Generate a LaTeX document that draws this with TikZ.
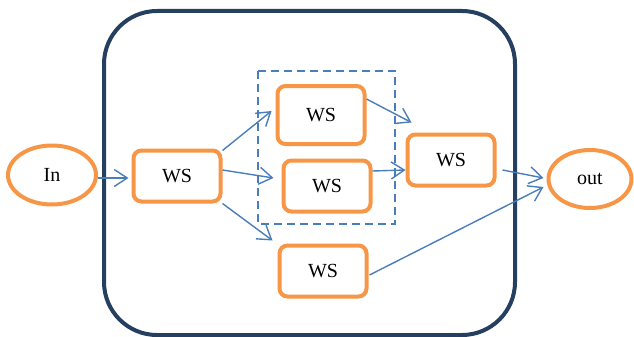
\documentclass[tikz,border=0pt]{standalone}
\usepackage{fontspec}
\setmainfont{Liberation Serif}
\usetikzlibrary{shapes.geometric,arrows.meta}
\definecolor{navy}{HTML}{243F60}
\definecolor{orng}{HTML}{F79646}
\definecolor{blu}{HTML}{4A7EBB}
\begin{document}
\begin{tikzpicture}[x=1pt,y=-1pt,
  wsbox/.style={draw=orng,line width=4pt,rounded corners=8pt,minimum width=87pt,minimum height=51pt,inner sep=0pt,font=\fontsize{20}{24}\selectfont},
  endell/.style={draw=orng,line width=4pt,ellipse,inner sep=0pt,font=\fontsize{20}{24}\selectfont},
  conn/.style={draw=blu,line width=1.4pt,-{Straight Barb[length=13pt,width=17pt,line width=1.4pt]}},
  frame/.style={draw=navy,line width=4pt,rounded corners=53pt},
  group/.style={draw=blu,line width=1.3pt,dash pattern=on 8pt off 5pt}]
\useasboundingbox (0,0) rectangle (634,337);
\draw[frame] (104,11) rectangle (515,335);
\draw[group] (258,71) rectangle (395,224);
\node[endell,minimum width=88pt,minimum height=59pt] (in) at (52,175) {In};
\node[endell,minimum width=83pt,minimum height=58pt] (out) at (590,179) {out};
\node[wsbox] (w1) at (177,176) {WS};
\node[wsbox,minimum height=58pt] (w2) at (321,115) {WS};
\node[wsbox] (w3) at (327,186) {WS};
\node[wsbox] (w4) at (451,160) {WS};
\node[wsbox] (w5) at (323,271) {WS};
\draw[conn] ([yshift=-3pt]in.east) -- ([shift={(-3pt,-2pt)}]w1.west);
\draw[conn] ([yshift=-2pt]w1.north east) -- ([shift={(-4pt,4pt)}]w2.west);
\draw[conn] ([yshift=6pt]w1.east) -- ([shift={(-8pt,8pt)}]w3.west);
\draw[conn] (w1.south east) -- ([shift={(-5pt,3pt)}]w5.north west);
\draw[conn] ([yshift=16pt]w2.east) -- ([shift={(6pt,10pt)}]w4.north west);
\draw[conn] ([yshift=15pt]w3.east) -- ([yshift=-10pt]w4.west);
\draw[conn] ([shift={(6pt,-10pt)}]w4.east) -- ([shift={(-3pt,1pt)}]out.west);
\draw[conn] ([shift={(1pt,-4pt)}]w5.east) -- ([shift={(-3pt,-8pt)}]out.west);
\end{tikzpicture}
\end{document}
